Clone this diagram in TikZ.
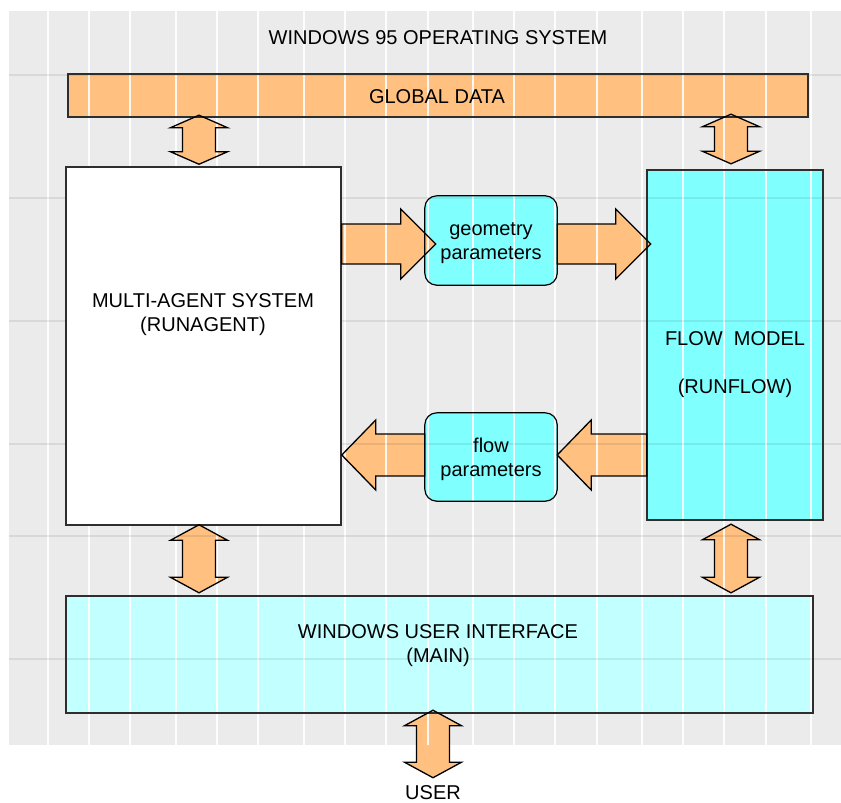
\documentclass[tikz,border=0pt]{standalone}
\usepackage{fontspec}
\setmainfont{Liberation Sans}
\usetikzlibrary{calc}

\definecolor{panelgray}{HTML}{EBEBEB}
\definecolor{orangefill}{HTML}{FFC080}
\definecolor{cyanfill}{HTML}{80FFFF}
\definecolor{cyanlight}{HTML}{C2FFFF}
\definecolor{edgegray}{HTML}{2E2E2E}

\pgfdeclarelayer{panel}
\pgfdeclarelayer{shapes}
\pgfdeclarelayer{grid}
\pgfdeclarelayer{front}
\pgfsetlayers{panel,shapes,grid,front,main}

\tikzset{
  box/.style={inner sep=0pt},
  boxedge/.style={draw=edgegray, line width=1.5pt},
  roundedge/.style={draw=black, line width=1.2pt, rounded corners=12pt},
  arrowfill/.style={fill=orangefill},
  arrowedge/.style={draw=black, line width=1.3pt, line join=miter},
  label/.style={font=\fontsize{20}{24}\selectfont, align=center, inner sep=0pt},
  gridv/.style={white, line width=1.5pt, opacity=0.9},
  gridh/.style={black, line width=1.2pt, opacity=0.08},
}

% block arrows: fill below the ruled grid, outline above it
\newcommand\twolayer[2]{%
  \begin{pgfonlayer}{shapes}\path[arrowfill] #2\end{pgfonlayer}%
  \begin{pgfonlayer}{front}\path[arrowedge] #2\end{pgfonlayer}}
% vertical two-headed block arrow: [head length]{top tip}{bottom tip}
\newcommand\vtwoway[3][13pt]{\twolayer{}{let \p1=(#2), \p2=(#3) in
    (\x1,\y1) -- (\x1+28.5pt,\y1-#1) -- (\x1+16.5pt,\y1-#1)
    -- (\x1+16.5pt,\y2+#1) -- (\x1+28.5pt,\y2+#1) -- (\x1,\y2)
    -- (\x1-28.5pt,\y2+#1) -- (\x1-16.5pt,\y2+#1)
    -- (\x1-16.5pt,\y1-#1) -- (\x1-28.5pt,\y1-#1) -- cycle;}}
% horizontal block arrow pointing right: {tail}{tip}
\newcommand\rightblock[2]{\twolayer{}{let \p1=(#1), \p2=(#2) in
    (\x1,\y2+20pt) -- (\x2-35pt,\y2+20pt) -- (\x2-35pt,\y2+35pt) -- (\x2,\y2)
    -- (\x2-35pt,\y2-35pt) -- (\x2-35pt,\y2-20pt) -- (\x1,\y2-20pt) -- cycle;}}
% horizontal block arrow pointing left: {tail}{tip}
\newcommand\leftblock[2]{\twolayer{}{let \p1=(#1), \p2=(#2) in
    (\x1,\y2+21pt) -- (\x2+34pt,\y2+21pt) -- (\x2+34pt,\y2+35pt) -- (\x2,\y2)
    -- (\x2+34pt,\y2-35pt) -- (\x2+34pt,\y2-21pt) -- (\x1,\y2-21pt) -- cycle;}}

\begin{document}
\begin{tikzpicture}[x=1pt,y=-1pt]
\useasboundingbox (0,0) rectangle (841,803);

% operating-system panel
\begin{pgfonlayer}{panel}
  \fill[panelgray] (9,11) rectangle (841,745);
\end{pgfonlayer}

% box fills
\begin{pgfonlayer}{shapes}
  \node[box, fill=orangefill, minimum width=740pt, minimum height=43pt] (global) at (438,95.5) {};
  \node[box, fill=cyanfill, minimum width=176pt, minimum height=350pt] (flow) at (735,345) {};
  \node[box, fill=cyanlight, minimum width=747pt, minimum height=117pt] (ui) at (439.5,654.5) {};
  \node[box, fill=cyanfill, rounded corners=12pt, minimum width=132pt, minimum height=89pt] (geom) at (491,240.5) {};
  \node[box, fill=cyanfill, rounded corners=12pt, minimum width=132pt, minimum height=88pt] (flowpar) at (491,457) {};
\end{pgfonlayer}

% white agent box and the box outlines
\begin{pgfonlayer}{front}
  \node[box, boxedge, fill=white, minimum width=275pt, minimum height=358pt] (agent) at (203.5,346) {};
  \foreach \b in {global,flow,ui}
    \path[boxedge] (\b.north west) rectangle (\b.south east);
  \foreach \b in {geom,flowpar}
    \path[roundedge] (\b.north west) rectangle (\b.south east);
\end{pgfonlayer}

% text
\node[label] (title) at (438,38) {WINDOWS 95 OPERATING SYSTEM};
\node[label] (globaltext) at (437,97) {GLOBAL DATA};
\node[label] (agenttext) at (203,315) {MULTI-AGENT SYSTEM\\(RUNAGENT)};
\node[label, font=\fontsize{20}{48}\selectfont] (flowtext) at (735,365) {FLOW\ \ MODEL\\(RUNFLOW)};
\node[label] (geomtext) at (491,243) {geometry\\parameters};
\node[label] (flowpartext) at (491,459) {flow\\parameters};
\node[label] (uitext) at (438,646) {WINDOWS USER INTERFACE\\(MAIN)};
\node[label] (user) at (433,793) {USER};

\coordinate (laneA) at ([xshift=-4.5pt]agent.north);
\coordinate (laneB) at ([xshift=-4pt]flow.north);
\coordinate (laneC) at ([xshift=-6.5pt]ui.south);
\coordinate (g-in) at ([xshift=11pt,yshift=-3.5pt]geom.west);
\coordinate (g-out) at ([xshift=4pt]flow.west |- g-in);
\coordinate (f-in) at ([yshift=2pt]flowpar.east);
\coordinate (f-out) at (agent.east |- f-in);

% block arrows between the boxes
\vtwoway[12.5pt]{$(global.south -| laneA)+(0,-2)$}{$(agent.north -| laneA)+(0,-2)$}
\vtwoway[12.5pt]{$(global.south -| laneB)+(0,-3)$}{$(flow.north -| laneB)+(0,-6)$}
\vtwoway[15.5pt]{$(agent.south -| laneA)+(0,-1)$}{$(ui.north -| laneA)+(0,-3)$}
\vtwoway[15.5pt]{$(flow.south -| laneB)+(0,4)$}{$(ui.north -| laneB)+(0,-3)$}
\vtwoway[15.5pt]{$(ui.south -| laneC)+(0,-3)$}{$(user.north)+(0,-8)$}
\rightblock{agent.east}{g-in}
\rightblock{geom.east}{g-out}
\leftblock{flow.west}{f-in}
\leftblock{flowpar.west}{f-out}

% ruled grid over the panel
\begin{pgfonlayer}{grid}
  \foreach \gx in {48,89,130,176,217,258,304,345,386,428,473,514,555,597,642,683,724,766,811}
    \draw[gridv] (\gx,11) -- (\gx,745);
  \foreach \gy in {75,198,321,444,536,659}
    \draw[gridh] (9,\gy) -- (841,\gy);
\end{pgfonlayer}
\end{tikzpicture}
\end{document}
